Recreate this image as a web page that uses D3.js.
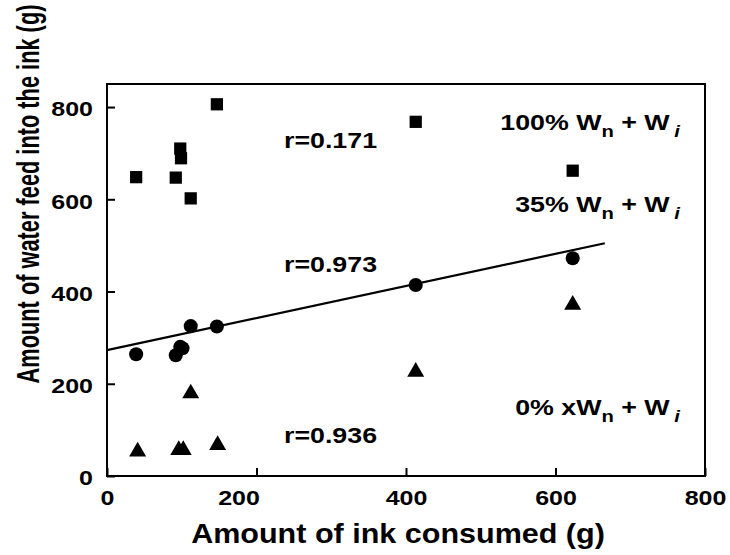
<!DOCTYPE html>
<html>
<head>
<meta charset="utf-8">
<script src="https://cdn.jsdelivr.net/npm/d3@7"></script>
<style>
  html, body { margin: 0; padding: 0; background: #fff; }
  svg { display: block; }
  text { font-family: "Liberation Sans", Arial, Helvetica, sans-serif; font-weight: bold; fill: #000; }
</style>
</head>
<body>
<svg id="chart" width="730" height="555"></svg>
<script>
// ---- data ----
const xTicks = [0, 200, 400, 600, 800];
const yTicks = [0, 200, 400, 600, 800];

const squaresX = [39, 92, 98, 99, 112, 147, 413, 623];
const squaresY = [648, 647, 710, 689, 602, 806, 768, 662];

const circlesX = [39, 92, 98, 101, 112, 147, 413, 623];
const circlesY = [264, 262, 280, 277, 325, 324, 414, 472];

const trianglesX = [41, 96, 102, 112, 148, 413, 623];
const trianglesY = [53, 56, 56, 179, 67, 226, 371];

const fitIntercept = 273;
const fitSlope = 0.348;
const fitRange = [0, 666];

const rLabels = ["r=0.171", "r=0.973", "r=0.936"];
const rLabelY = [711, 442, 72];       // data-space y of each r label baseline
const seriesPrefix = ["100% W", "35% W", "0% xW"];
const seriesLabelY = [750, 572, 133]; // data-space y of each series label baseline

const xTitle = "Amount of ink consumed (g)";
const yTitle = "Amount of water feed into the ink (g)";

// ---- layout ----
(function () {
const svg = d3.select("#chart");
const mLeft = 107, mRight = 705, mTop = 84, mBottom = 476;
const SX = 1.19; // horizontal stretch of the scanned lettering

const x = d3.scaleLinear().domain([0, 800]).range([mLeft, mRight]);
const y = d3.scaleLinear().domain([0, 850]).range([mBottom, mTop]);

svg.append("rect").attr("width", 730).attr("height", 555).attr("fill", "#fff");

// frame
svg.append("rect")
  .attr("x", mLeft).attr("y", mTop)
  .attr("width", mRight - mLeft).attr("height", mBottom - mTop)
  .attr("fill", "none").attr("stroke", "#000").attr("stroke-width", 2);

// axes
const gx = svg.append("g").attr("transform", `translate(0,${mBottom})`)
  .call(d3.axisBottom(x).tickValues(xTicks).tickSize(-8).tickPadding(14).tickFormat(d3.format("d")));
const gy = svg.append("g").attr("transform", `translate(${mLeft},0)`)
  .call(d3.axisLeft(y).tickValues(yTicks).tickSize(-8).tickPadding(14).tickFormat(d3.format("d")));
[gx, gy].forEach(g => {
  g.select(".domain").remove();
  g.selectAll(".tick line").attr("stroke", "#000").attr("stroke-width", 2);
  g.selectAll(".tick text").attr("font-size", 21).attr("font-family", null).attr("fill", "#000");
});
gx.selectAll(".tick text")
  .attr("x", d => (d === 200 ? -18 : 0) / SX)
  .attr("transform", `scale(${SX},1)`);
gy.selectAll(".tick text")
  .attr("x", -14 / SX).attr("dy", "0.42em")
  .attr("transform", `scale(${SX},1)`);

// regression line (35% series)
svg.append("line")
  .attr("x1", x(fitRange[0])).attr("y1", y(fitIntercept + fitSlope * fitRange[0]))
  .attr("x2", x(fitRange[1])).attr("y2", y(fitIntercept + fitSlope * fitRange[1]))
  .attr("stroke", "#000").attr("stroke-width", 2.2);

// markers
const sq = d3.symbol().type(d3.symbolSquare).size(150);
const ci = d3.symbol().type(d3.symbolCircle).size(155);
const tr = d3.symbol().type(d3.symbolTriangle).size(125);

svg.append("g").selectAll("path").data(squaresX.map((v, i) => [v, squaresY[i]]))
  .join("path").attr("d", sq).attr("fill", "#000")
  .attr("transform", d => `translate(${x(d[0])},${y(d[1])})`);
svg.append("g").selectAll("path").data(circlesX.map((v, i) => [v, circlesY[i]]))
  .join("path").attr("d", ci).attr("fill", "#000")
  .attr("transform", d => `translate(${x(d[0])},${y(d[1])})`);
svg.append("g").selectAll("path").data(trianglesX.map((v, i) => [v, trianglesY[i]]))
  .join("path").attr("d", tr).attr("fill", "#000")
  .attr("transform", d => `translate(${x(d[0])},${y(d[1])})`);

// r labels
rLabels.forEach((t, i) => {
  svg.append("text")
    .attr("transform", `translate(284,${y(rLabelY[i])}) scale(${SX},1)`)
    .attr("font-size", 22.5)
    .text(t);
});

// series labels (right aligned)
seriesPrefix.forEach((p, i) => {
  const t = svg.append("text")
    .attr("transform", `translate(680,${y(seriesLabelY[i])}) scale(${SX},1)`)
    .attr("text-anchor", "end")
    .attr("font-size", 22.5);
  t.append("tspan").text(p);
  t.append("tspan").attr("font-size", 17).attr("dy", 7).text("n");
  t.append("tspan").attr("dy", -7).text(" + W");
  t.append("tspan").attr("font-size", 17).attr("font-style", "italic").attr("dx", 4).attr("dy", 7).text("i");
});

// axis titles
svg.append("text")
  .attr("transform", `translate(398,543) scale(1.11,1)`)
  .attr("text-anchor", "middle").attr("font-size", 27.5)
  .text(xTitle);

svg.append("text")
  .attr("transform", `translate(39,194) scale(1.46,1) rotate(-90)`)
  .attr("text-anchor", "middle").attr("font-size", 21.8)
  .text(yTitle);
})();
</script>
</body>
</html>
